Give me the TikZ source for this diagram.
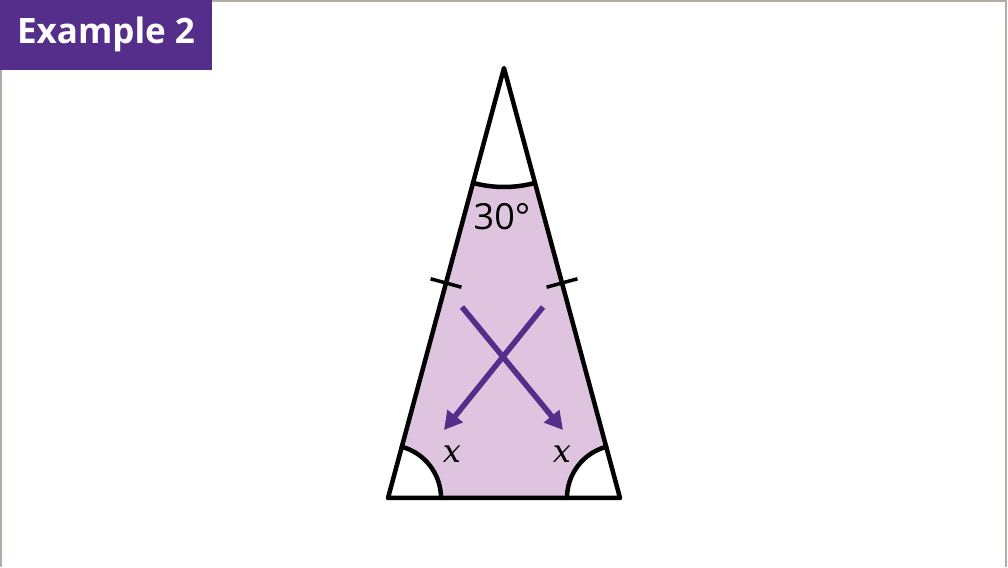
\documentclass[tikz,border=0pt]{standalone}
\usepackage{fontspec}
\setsansfont{Open Sans}
\newfontfamily\xfont{DejaVu Serif}
\usetikzlibrary{arrows.meta}
\definecolor{bbcpurple}{HTML}{542E8A}
\definecolor{lightpurple}{HTML}{DEC4DE}
\definecolor{framegray}{HTML}{B3ACA4}
\tikzset{
  edge/.style={line width=4.5pt, line join=round, line cap=round},
  xarrow/.style={bbcpurple, line width=5.5pt, -{Triangle[length=18pt,width=19pt]}},
  lbl/.style={font=\fontsize{36}{40}\selectfont\sffamily},
  xlbl/.style={font=\fontsize{32}{36}\selectfont\xfont\itshape},
}
\begin{document}
\begin{tikzpicture}[x=1pt,y=1pt]
\useasboundingbox (0,0) rectangle (1008,567);
\fill[white] (0,0) rectangle (1008,567);
% frame
\draw[framegray, line width=2pt] (1,0) -- (1,566) -- (1006,566) -- (1006,0);
% banner
\fill[bbcpurple] (0,497) rectangle (212,567);
\node[font=\fontsize{35}{40}\selectfont\sffamily\bfseries, text=white] (title) at (106,533) {Example 2};
% triangle
\coordinate (A) at (504,499);
\coordinate (L) at (388,69);
\coordinate (R) at (620,69);
\fill[lightpurple] (A) -- (L) -- (R) -- cycle;
\fill[white] (A) -- ++(254.9:119) arc[start angle=254.9, end angle=285.1, radius=119] -- cycle;
\fill[white] (L) -- ++(0:53) arc[start angle=0, end angle=74.9, radius=53] -- cycle;
\fill[white] (R) -- ++(105.1:53) arc[start angle=105.1, end angle=180, radius=53] -- cycle;
% angle arcs
\draw[edge] (A) ++(254.9:119) arc[start angle=254.9, end angle=285.1, radius=119];
\draw[edge] (L) ++(0:53) arc[start angle=0, end angle=74.9, radius=53];
\draw[edge] (R) ++(105.1:53) arc[start angle=105.1, end angle=180, radius=53];
% sides
\draw[edge] (A) -- (L) -- (R) -- cycle;
% ticks
\coordinate (t1a) at (430.6,288.2);
\coordinate (t1b) at (461.4,279.8);
\coordinate (t2a) at (546.6,279.8);
\coordinate (t2b) at (577.4,288.2);
\draw[line width=3.5pt] (t1a) -- (t1b);
\draw[line width=3.5pt] (t2a) -- (t2b);
% labels
\node[lbl] (ang) at (502,350) {30°};
\node[xlbl] (xl) at (452,113) {x};
\node[xlbl] (xr) at (562,113) {x};
% arrows
\coordinate (s1) at (462,260);
\coordinate (e1) at (563,137);
\coordinate (s2) at (543,260);
\coordinate (e2) at (444,137);
\draw[xarrow] (s1) -- (e1);
\draw[xarrow] (s2) -- (e2);
\end{tikzpicture}
\end{document}
